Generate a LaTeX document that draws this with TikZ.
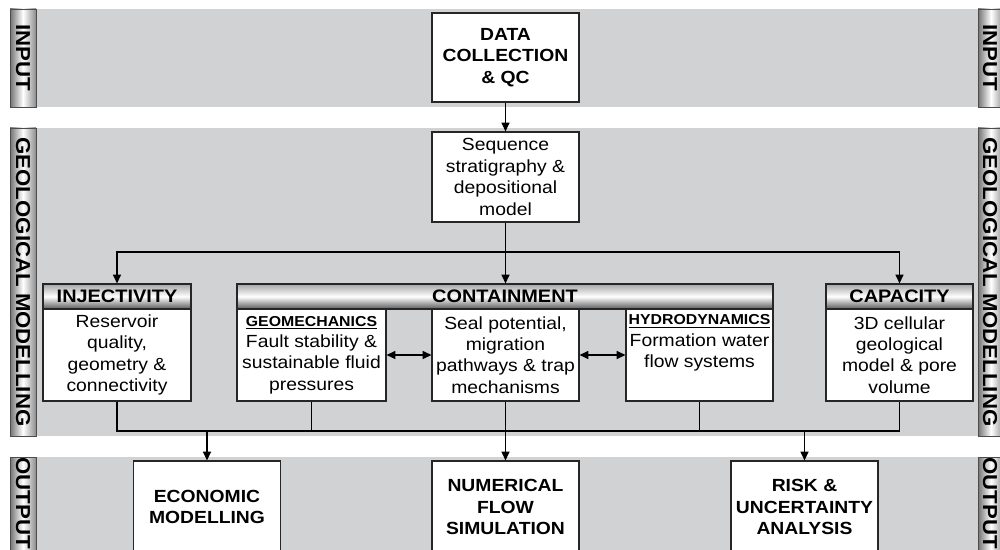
\documentclass[tikz,border=0pt]{standalone}
\usepackage{fontspec}
\setmainfont{Liberation Sans}[FakeStretch=1.1]
\usepackage{tikz}
\usetikzlibrary{arrows.meta}
\usetikzlibrary{positioning}

\definecolor{fondgris}{RGB}{209,210,212}

\begin{document}
\begin{tikzpicture}[x=0.02cm,y=-0.02cm]
% définition des paramètres
\newcommand{\unite}{0.02cm} % un pixel
\newcommand{\soustitre}[1]{{\bfseries\fontsize{8.2}{12.2}\selectfont\underline{#1}}}
\newcommand{\bandeg}{36}  % bord gauche des bandes grises
\newcommand{\banded}{978} % bord droit des bandes grises
\tikzstyle bande=[fill=fondgris,draw=none]
\tikzstyle onglet=[draw=black!70,line width=0.5pt,left color=black!55,right color=black!45,middle color=white]
\tikzstyle texteonglet=[rotate=-90,inner sep=0pt,font=\bfseries\fontsize{11.5}{12}\selectfont]
\tikzstyle boite=[draw=black!85,fill=white,line width=0.6pt,inner sep=0pt,align=center,minimum width=147*\unite]
\tikzstyle texteboite=[boite,minimum height=92*\unite,font=\fontsize{10}{12.2}\selectfont]
\tikzstyle titreboite=[boite,font=\bfseries\fontsize{10}{12.2}\selectfont]
\tikzstyle entete=[draw=black!85,line width=0.6pt,inner sep=0pt,minimum width=147*\unite,minimum height=25*\unite,top color=black!35,bottom color=black!65,middle color=white,font=\bfseries\fontsize{10.3}{12}\selectfont]
\tikzstyle trait=[line width=0.8pt]
\tikzstyle fleche=[trait,-{Triangle[length=5pt,width=4.5pt]}]
\tikzstyle flechedouble=[trait,{Triangle[length=5pt,width=4.5pt]}-{Triangle[length=5pt,width=4.5pt]}]

\useasboundingbox (0,0) rectangle (1000,550);
\clip (0,0) rectangle (1000,550);

% les bandes et les onglets
\foreach \haut/\bas/\titre/\milieu [count=\i] in {9/107/INPUT/58,128/436/GEOLOGICAL MODELLING/282,457/600/OUTPUT/503}{
  \fill[bande] (\bandeg,\haut) rectangle (\banded,\bas);
  \draw[onglet] (10,\haut) rectangle (\bandeg,\bas);
  \draw[onglet] (\banded,\haut) rectangle (1004,\bas);
  \node[texteonglet] (ongletg\i) at (23,\milieu) {\titre};
  \node[texteonglet] (ongletd\i) at (990,\milieu) {\titre};
}

% entrée
\node[titreboite,minimum height=89*\unite] (donnees) at (505.5,57.5) {DATA\\COLLECTION\\\& QC};
\node[texteboite,minimum height=90*\unite] (sequence) at (505.5,177) {Sequence\\stratigraphy \&\\depositional\\model};

% les en-têtes
\node[entete,minimum width=148*\unite] (injection) at (117,296.5) {INJECTIVITY};
\node[entete,minimum width=536*\unite] (confinement) at (505,296.5) {CONTAINMENT};
\node[entete] (capacite) at (899.5,296.5) {CAPACITY};

% les boites du modèle géologique
\node[texteboite,minimum width=148*\unite] (reservoir) at (117,355) {Reservoir\\quality,\\geometry \&\\connectivity};
\node[texteboite,minimum width=149*\unite] (geomeca) at (311.5,355) {\soustitre{GEOMECHANICS}\\Fault stability \&\\sustainable fluid\\pressures};
\node[texteboite] (scellement) at (505.5,355) {Seal potential,\\migration\\pathways \& trap\\mechanisms};
\node[texteboite] (hydro) at (699.5,355) {\soustitre{HYDRODYNAMICS}\\Formation water\\flow systems\\\strut};
\node[texteboite] (volume) at (899.5,355) {3D cellular\\geological\\model \& pore\\volume};

% sorties
\node[titreboite,minimum height=92*\unite] (economie) at (207,507) {ECONOMIC\\MODELLING};
\node[titreboite,minimum height=92*\unite] (simulation) at (505.5,507) {NUMERICAL\\FLOW\\SIMULATION};
\node[titreboite,minimum height=92*\unite] (risque) at (804.5,507) {RISK \&\\UNCERTAINTY\\ANALYSIS};

% les flèches
\coordinate (partage) at (505.5,252);
\coordinate (collecte) at (0,431);
\draw[fleche] (donnees) -- (sequence);
\draw[fleche] (sequence) -- (sequence.south |- confinement.north);
\draw[fleche] (partage) -| (injection.north);
\draw[fleche] (partage) -| (capacite.north);
\draw[flechedouble] (geomeca) -- (scellement);
\draw[flechedouble] (scellement) -- (hydro);
\draw[trait] (reservoir.south) |- (collecte -| volume.south) -- (volume.south);
\foreach \n in {geomeca,scellement,hydro}
    \draw[trait] (\n.south) -- (\n.south |- collecte);
\foreach \n in {economie,simulation,risque}
    \draw[fleche] (\n.north |- collecte) -- (\n.north);
\end{tikzpicture}
\end{document}
